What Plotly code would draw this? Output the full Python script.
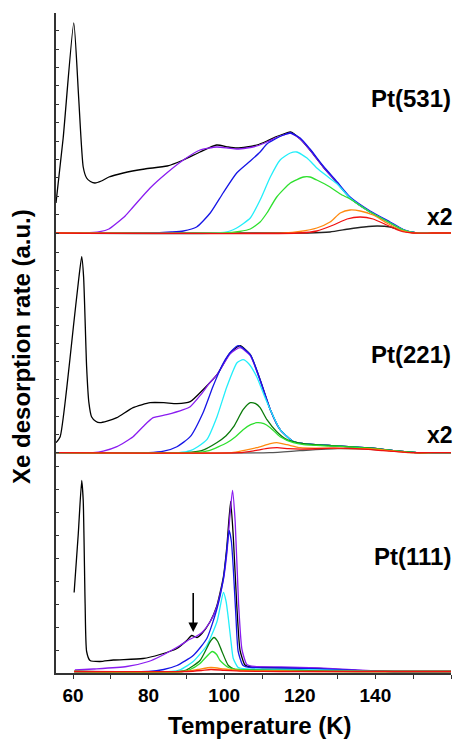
import plotly.graph_objects as go

# ---------------- Pt(531) (top panel) ----------------
T531_LOW = [55.5, 122, 128, 133, 137, 140.5, 144, 147.5, 151, 155, 160]
Y531_LOW = [0, 0, 1, 4, 6, 7, 6, 2, 0, 0, 0]
T531_BLACK = [55.5, 57.4, 60.2, 61.5, 62.7, 63.6, 64.6, 65.8, 67.5, 69.5, 73.3, 79, 84.9, 89.2, 93.6, 98, 101, 103.3, 106, 108.6,
              111.3, 113.5, 115.7, 117.5, 120.1, 122.7, 126.2, 129.9, 133.3, 138.6, 143.9, 147.4, 151, 155, 160]
Y531_BLACK = [30, 95, 210, 135, 66, 55, 51.5, 50, 52, 56, 60, 64, 67, 73, 81, 88, 86, 85, 86, 88,
              92, 96, 99, 101, 94, 83, 66, 50, 35, 21, 10, 3, 0, 0, 0]
T531_PURPLE = [55.5, 63, 67.1, 69.5, 71.6, 73.8, 75.9, 80.4, 84.8, 89.2, 93.6, 98, 101, 103.3, 106, 108.6, 111.3, 113.5, 115.7, 117.5,
               120.1, 122.7, 126.2, 129.9, 133.3, 138.6, 143.9, 147.4, 151, 155, 160]
Y531_PURPLE = [0, 0, 1.3, 4, 10, 17, 26, 45, 60, 73, 83, 86, 85, 84, 85, 87, 91, 95, 98, 100,
               94, 83, 66, 50, 35, 21, 10, 3, 0, 0, 0]
T531_BLUE = [55.5, 80, 86, 89.2, 92.7, 96.3, 99.7, 103.3, 106.9, 109.5, 111.3, 113.5, 115.7, 117.5, 120.1, 122.7, 126.2, 129.9,
             133.3, 138.6, 143.9, 147.4, 151, 155, 160]
Y531_BLUE = [0, 0, 1, 2, 6, 20, 40, 60, 72, 81, 89, 94, 98, 100, 95, 84, 67, 51, 36, 22, 11, 3.5, 0, 0, 0]
T531_CYAN = [55.5, 98, 101.5, 103.3, 106.9, 109.5, 112.2, 114.8, 117.5, 119.2, 121.9, 124.5, 127.5, 129.9, 133.3, 138.6, 143.9,
             147.4, 151, 155, 160]
Y531_CYAN = [0, 0, 2, 5, 15, 33, 56, 73, 80, 81, 75, 65, 56, 49, 35, 21, 10, 3, 0, 0, 0]
T531_GREEN = [55.5, 100, 104, 106.9, 109.5, 111.3, 113.9, 117.5, 121, 122.7, 124.5, 128, 130.7, 133.3, 138.6, 143.9, 147.4, 151,
              155, 160]
Y531_GREEN = [0, 0, 1.5, 4, 11, 20, 36, 50, 56, 56, 53, 46, 39, 34, 21, 10, 3, 0, 0, 0]
T531_ORANGE = [55.5, 116, 120, 124.5, 128, 130.7, 133.3, 136, 139.4, 143, 146.6, 150, 155, 160]
Y531_ORANGE = [0, 0, 1.5, 5, 11, 20, 23, 22, 18, 10, 3, 0, 0, 0]
T531_RED = [55.5, 120, 124.5, 128.9, 132.5, 136, 139.4, 143, 146.6, 150, 155, 160]
Y531_RED = [0, 0, 2, 8, 14, 16, 14, 8, 2, 0, 0, 0]

# ---------------- Pt(221) (middle panel) ----------------
T221_LOW = [55.5, 112, 120, 130, 140, 146, 151, 155, 160]
Y221_LOW = [0, 0, 2, 4, 3, 1.5, 0, 0, 0]
T221_BLACK = [55.5, 56.6, 58.3, 60.1, 61.4, 62.3, 62.8, 63.6, 64.2, 64.9, 66, 67.1, 69, 71.6, 75.9, 80.4, 84, 87.5, 91, 94.4,
              98.1, 101.6, 104.2, 106.9, 109.5, 112.2, 114.8, 118.3, 121, 128.8, 137.8, 144.7, 151, 155, 160]
Y221_BLACK = [10, 16, 63, 126, 170, 196, 176, 86, 50, 36, 31.5, 30, 31.5, 35, 45, 50, 50, 49, 51, 63,
              78, 100, 107, 98, 73, 43, 23, 11, 9, 7, 5, 2, 0, 0, 0]
T221_PURPLE = [55.5, 65.3, 68, 71.6, 75.9, 78.5, 81.2, 84.8, 89.2, 91, 93.6, 96.2, 98.1, 101.6, 104.2, 106.9, 109.5, 112.2, 114.8,
               118.3, 121, 128.8, 137.8, 144.7, 151, 155, 160]
Y221_PURPLE = [0, 0, 1.5, 6, 16, 26, 35, 38, 43, 46, 57, 70, 78, 99, 105, 97, 72, 43, 23, 11, 9, 7, 5, 2, 0, 0, 0]
T221_BLUE = [55.5, 80, 84, 87.5, 91, 94.4, 97, 99.8, 102, 103.8, 106.9, 109.5, 112.2, 114.8, 118.3, 121, 128.8, 137.8, 144.7,
             151, 155, 160]
Y221_BLUE = [0, 0, 1.5, 6, 16, 40, 66, 90, 102, 107, 98, 73, 43, 23, 11, 9, 7, 5, 2, 0, 0, 0]
T221_CYAN = [55.5, 88, 91, 93, 95.4, 98.1, 100.7, 103.4, 105, 106.5, 108.6, 110.5, 112.2, 114.8, 118.3, 121, 128.8, 137.8, 144.7,
             151, 155, 160]
Y221_CYAN = [0, 0, 2, 6, 13, 36, 66, 90, 93, 89, 76, 58, 43, 23, 11, 9, 7, 5, 2, 0, 0, 0]
T221_DKGREEN = [55.5, 90, 94, 98, 100.5, 102.5, 105, 106.9, 108.3, 109.5, 111.3, 113.9, 116.6, 118.3, 121, 128.8, 137.8, 144.7,
                151, 155, 160]
Y221_DKGREEN = [0, 0, 2, 10, 17, 26, 43, 50, 49, 45, 33, 21, 13, 11, 9, 7, 5, 2, 0, 0, 0]
T221_GREEN = [55.5, 92, 96, 100.7, 103, 105, 107, 108.6, 110.5, 112.2, 114.8, 118.3, 121, 128.8, 137.8, 144.7, 151, 155, 160]
Y221_GREEN = [0, 0, 2, 10, 16, 23, 28, 30, 29, 25, 16, 10, 8, 6.5, 4.5, 2, 0, 0, 0]
T221_ORANGE = [55.5, 102, 105, 108.6, 112.2, 113.9, 116.6, 120.1, 128, 138, 144, 149, 155, 160]
Y221_ORANGE = [0, 0, 2, 5, 9, 10, 8, 5, 4.5, 4, 2, 0, 0, 0]
T221_RED = [55.5, 104, 108, 111, 114, 117, 120, 128.9, 137, 142, 150, 155, 160]
Y221_RED = [0, 0, 2, 4, 5, 4, 3.5, 4.5, 3.5, 2, 0, 0, 0]

# ---------------- Pt(111) (bottom panel) ----------------
T111_BLACK = [60.3, 61.4, 62.3, 62.7, 63.2, 63.6, 64.5, 67.1, 70.7, 78.5, 83, 87.5, 90.1, 91.4, 92.8, 94.1, 96.3, 98, 99.8, 100.7,
              101.7, 102.4, 103.3, 104.2, 105.5, 107, 110, 120, 125, 130, 135, 140, 145, 150, 160]
Y111_BLACK = [79, 138, 191, 171, 68, 20, 11, 10, 11.5, 13, 17, 23, 31, 36, 34, 38, 50, 65, 95, 125,
              170, 135, 68, 21, 6.5, 4.5, 4, 3.5, 3, 2, 1, 0.5, 0, 0, 0]
T111_PURPLE = [60.5, 65.4, 74.2, 80, 83, 88.3, 90.8, 92.5, 94.1, 96.3, 98, 99.8, 100.7, 101.5, 102.2, 102.9, 103.8, 104.7, 106,
               108, 115, 125, 130, 135, 140, 145, 150, 160]
Y111_PURPLE = [1.5, 2.5, 5, 10, 15, 26, 32, 35, 39, 50, 64, 92, 118, 155, 181, 150, 68, 22, 7, 5, 4.5, 3.5, 2.5, 1.5, 0.5, 0, 0, 0]
T111_BLUE = [60.3, 80, 84, 87.5, 91.8, 95.4, 98.1, 99.8, 100.6, 101.3, 101.9, 102.4, 103.1, 103.7, 105, 107, 115, 125, 135, 145, 160]
Y111_BLUE = [0, 0, 2, 6, 16, 33, 63, 93, 118, 141, 130, 103, 55, 20, 6, 4, 3.5, 2.5, 1, 0, 0]
T111_CYAN = [60.3, 86, 88.5, 91.8, 95.4, 98.1, 99.8, 100.5, 101.1, 101.8, 102.4, 103.7, 106, 115, 125, 135, 145, 160]
Y111_CYAN = [0, 0, 2, 10, 26, 50, 79, 70, 53, 30, 13, 4, 2.5, 2, 1.5, 0.5, 0, 0]
T111_DKGREEN = [60.3, 88, 90, 93.6, 96.3, 97.3, 98.3, 99.3, 101.1, 102.9, 106, 120, 135, 160]
Y111_DKGREEN = [0, 0, 1.5, 11, 30, 34, 30, 21, 6, 2, 1.5, 1, 0, 0]
T111_GREEN = [60.3, 89, 91, 93.6, 96.8, 98, 98.9, 101.1, 104, 115, 130, 160]
Y111_GREEN = [0, 0, 2, 8, 20, 17, 11, 4, 2, 1, 0, 0]
T111_ORANGE = [60.3, 89, 93, 96.5, 100, 104, 115, 125, 160]
Y111_ORANGE = [0, 0, 2, 4, 2.5, 1, 0.5, 0, 0]
T111_RED = [60.3, 90, 94, 96.5, 100, 105, 115, 160]
Y111_RED = [0, 0, 1, 2, 1.2, 0.3, 0, 0]

X_TICKS = [60, 70, 80, 90, 100, 110, 120, 130, 140, 150, 160]
X_TICKTEXT = ["60", "", "80", "", "100", "", "120", "", "140", "", "160"]
PANEL_LABELS = ["Pt(531)", "Pt(221)", "Pt(111)"]
ARROW_T = 91.8

# ---------------- styling ----------------
C_BLACK = "#000000"
C_LOW = "#222222"
C_PURPLE = "#8a1cf0"
C_BLUE = "#1515e6"
C_CYAN = "#22eefa"
C_DKGREEN = "#0a7a0a"
C_GREEN = "#2ee02e"
C_ORANGE = "#ff8a10"
C_RED = "#f01010"
FONT = "Liberation Sans, Arial, Helvetica, sans-serif"

panels = [
    ("y3", [(T531_LOW, Y531_LOW, C_LOW), (T531_BLACK, Y531_BLACK, C_BLACK), (T531_PURPLE, Y531_PURPLE, C_PURPLE),
            (T531_BLUE, Y531_BLUE, C_BLUE), (T531_CYAN, Y531_CYAN, C_CYAN), (T531_GREEN, Y531_GREEN, C_GREEN),
            (T531_ORANGE, Y531_ORANGE, C_ORANGE), (T531_RED, Y531_RED, C_RED)]),
    ("y2", [(T221_LOW, Y221_LOW, "#555555"), (T221_BLACK, Y221_BLACK, C_BLACK), (T221_PURPLE, Y221_PURPLE, C_PURPLE),
            (T221_BLUE, Y221_BLUE, C_BLUE), (T221_CYAN, Y221_CYAN, C_CYAN), (T221_DKGREEN, Y221_DKGREEN, C_DKGREEN),
            (T221_GREEN, Y221_GREEN, C_GREEN), (T221_ORANGE, Y221_ORANGE, C_ORANGE), (T221_RED, Y221_RED, C_RED)]),
    ("y", [(T111_BLACK, Y111_BLACK, C_BLACK), (T111_PURPLE, Y111_PURPLE, C_PURPLE), (T111_BLUE, Y111_BLUE, C_BLUE),
           (T111_CYAN, Y111_CYAN, C_CYAN), (T111_DKGREEN, Y111_DKGREEN, C_DKGREEN), (T111_GREEN, Y111_GREEN, C_GREEN),
           (T111_ORANGE, Y111_ORANGE, C_ORANGE), (T111_RED, Y111_RED, C_RED)]),
]

fig = go.Figure()
for yax, curves in panels:
    for t, h, col in curves:
        fig.add_trace(go.Scatter(
            x=t, y=h, mode="lines", yaxis=yax, xaxis="x",
            line=dict(color=col, width=1.3, shape="spline", smoothing=0.55),
            hoverinfo="skip", showlegend=False))

PLOT_H = 660.0
axis_common = dict(showline=True, linecolor="#333333", linewidth=1.5, ticks="inside", ticklen=3,
                   tickwidth=1, tickcolor="#333333", showticklabels=False, showgrid=False,
                   zeroline=False, anchor="x", fixedrange=True)

# page body has an 8px margin, so the figure is 8px smaller and shifted accordingly
fig.update_layout(
    width=458, height=731,
    margin=dict(l=48, r=15, t=5, b=66),
    paper_bgcolor="white", plot_bgcolor="white",
    font=dict(family=FONT, color="black"),
    xaxis=dict(range=[55.5, 160], domain=[0, 1], anchor="y", showline=True, linecolor="#333333",
               linewidth=1.5, ticks="outside", ticklen=4, tickwidth=1.2, tickcolor="#333333",
               tickvals=X_TICKS, ticktext=X_TICKTEXT, showgrid=False, zeroline=False,
               tickfont=dict(family=FONT, size=19, color="black", weight="bold")),
    yaxis=dict(domain=[0, 218 / PLOT_H], range=[-1.5, 216.5], tick0=-1.5, dtick=23, **axis_common),
    yaxis2=dict(domain=[218 / PLOT_H, 438 / PLOT_H], range=[-2.3, 217.7], tick0=0, dtick=18.2, **axis_common),
    yaxis3=dict(domain=[438 / PLOT_H, 1], range=[-2, 220], tick0=0, dtick=18.4, **axis_common),
)

bold = lambda s: dict(family=FONT, size=s, color="black", weight="bold")
ann = [
    dict(text=PANEL_LABELS[0], x=1.005, y=0.870, font=bold(24)),
    dict(text="x2", x=1.010, y=0.691, font=bold(23)),
    dict(text=PANEL_LABELS[1], x=1.005, y=0.482, font=bold(24)),
    dict(text="x2", x=1.010, y=0.3606, font=bold(23)),
    dict(text=PANEL_LABELS[2], x=1.005, y=0.176, font=bold(24)),
]
for a in ann:
    fig.add_annotation(xref="paper", yref="paper", xanchor="right", yanchor="middle", showarrow=False, **a)

fig.add_annotation(text="Temperature (K)", xref="paper", yref="paper", x=0.516, y=-0.0788,
                   xanchor="center", yanchor="middle", showarrow=False, font=bold(24))
fig.add_annotation(text="Xe desorption rate (a.u.)", xref="paper", yref="paper", x=-0.086, y=0.494,
                   xanchor="center", yanchor="middle", textangle=-90, showarrow=False, font=bold(24))

fig.add_annotation(x=ARROW_T, y=39.5, ax=ARROW_T, ay=80, xref="x", yref="y", axref="x", ayref="y",
                   text="", showarrow=True, arrowhead=2, arrowsize=1.2, arrowwidth=1.6, arrowcolor="black")

fig.write_html("out.html")
